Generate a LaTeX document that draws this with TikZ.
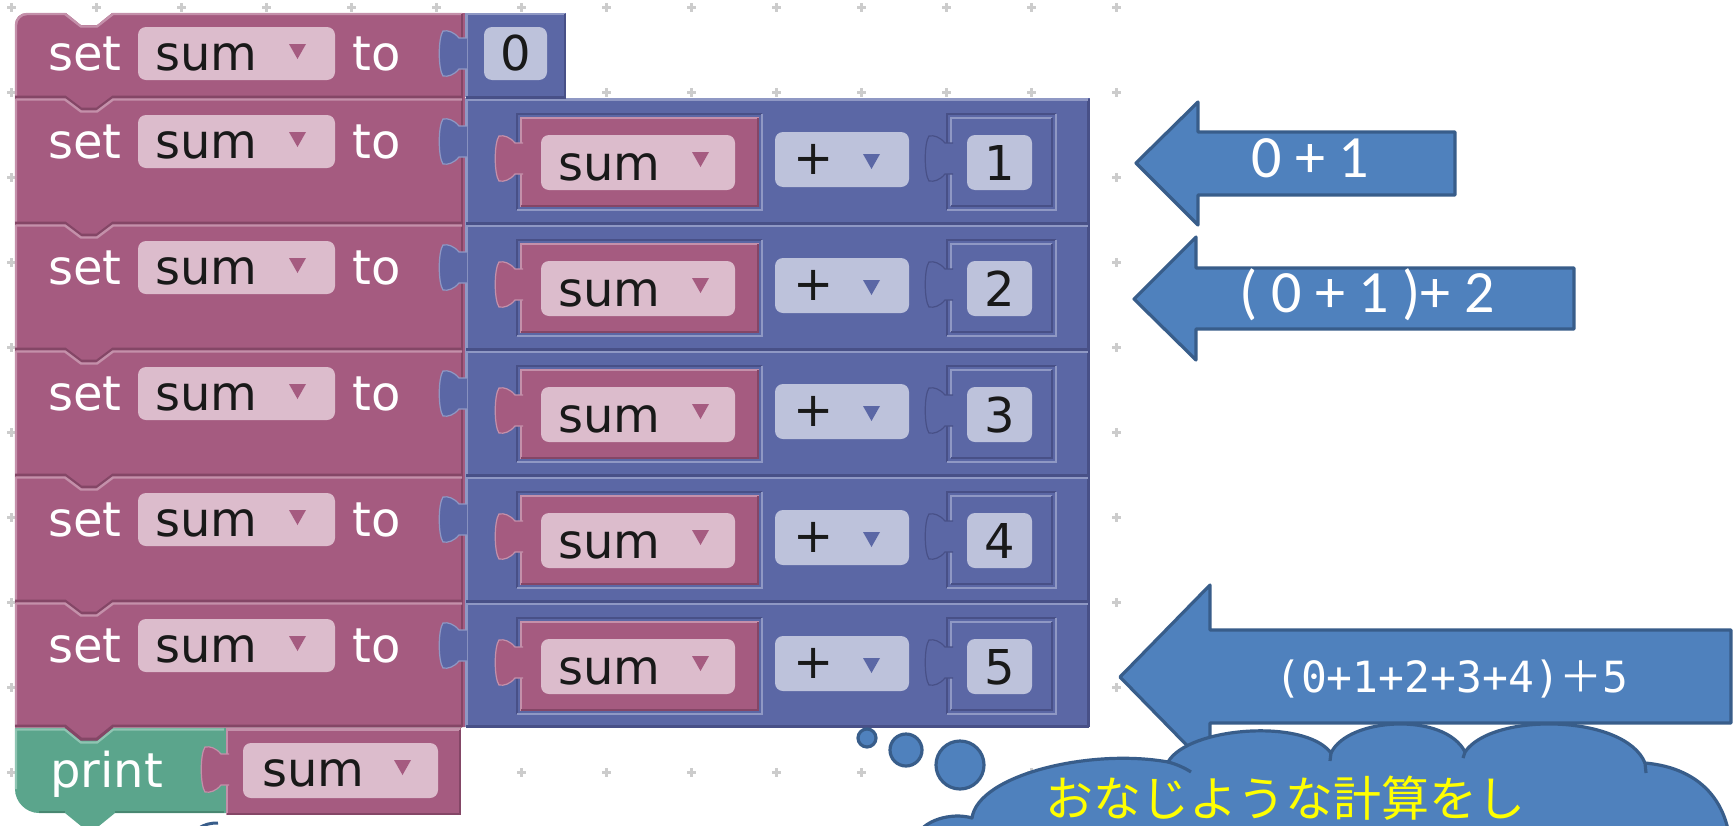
\documentclass[tikz,border=0pt]{standalone}
\usepackage{fontspec}
\setmainfont{DejaVu Sans}
\newfontfamily\blkfont{DejaVu Sans}
\newfontfamily\jpfont{Noto Sans CJK JP}
\newfontfamily\arwfont{Carlito}
\newfontfamily\arwmono{DejaVu Sans Mono}
\definecolor{pinkB}{RGB}{165,91,128}
\definecolor{pinkL}{RGB}{196,144,170}
\definecolor{pinkD}{RGB}{132,70,102}
\definecolor{pinkF}{RGB}{220,188,204}
\definecolor{blueB}{RGB}{91,103,165}
\definecolor{blueL}{RGB}{143,152,196}
\definecolor{blueD}{RGB}{72,80,135}
\definecolor{blueF}{RGB}{189,194,219}
\definecolor{greenB}{RGB}{91,165,140}
\definecolor{greenL}{RGB}{143,196,178}
\definecolor{greenD}{RGB}{72,135,113}
\definecolor{arwF}{RGB}{79,129,189}
\definecolor{arwD}{RGB}{56,93,138}
\definecolor{dotC}{RGB}{204,204,204}
\definecolor{jpY}{RGB}{255,255,0}
\newcommand{\blktab}[4]{%
  \filldraw[fill=#3, draw=#4, line width=0.6pt] (#1,#2+8) -- (#1-8,#2+8) .. controls (#1-13,#2+2) and (#1-19,#2) .. (#1-24,#2+1) .. controls (#1-29,#2+8) and (#1-29,#2+39) .. (#1-24,#2+46) .. controls (#1-19,#2+47) and (#1-13,#2+45) .. (#1-8,#2+39) -- (#1,#2+39);}
\newcommand{\ddarrow}[3]{\fill[#3] (#1,#2) -- (#1+17,#2) -- (#1+8.5,#2+15) -- cycle;}
\begin{document}
\begin{tikzpicture}[x=0.5pt,y=-0.5pt,
  wt/.style={inner sep=0, anchor=base west, text=white, font=\blkfont\fontsize{24}{28}\selectfont},
  bt/.style={wt, text=black!90},
  fldP/.style={fill=pinkF, rounded corners=4pt},
  fldB/.style={fill=blueF, rounded corners=4pt},
  bev/.style={line width=1.2pt},
  dotmark/.style={draw=dotC, line width=1.4pt},
  arw/.style={fill=arwF, draw=arwD, line width=1.6pt, line join=round},
  arwtxt/.style={inner sep=0, anchor=base, text=white, font=\arwfont\fontsize{30}{32}\selectfont},
  jptxt/.style={inner sep=0, anchor=base west, text=jpY, font=\jpfont\fontsize{24}{26}\selectfont}]
\useasboundingbox (0,0) rectangle (1735,825);
\clip (0,0) rectangle (1735,825);
\fill[white] (0,0) rectangle (1735,825);
% grid of workspace marks
\foreach \i in {0,...,13} \foreach \j in {0,...,9} {
  \draw[dotmark] (11.5+85*\i-4.5,7.5+85*\j) -- ++(9,0) (11.5+85*\i,7.5+85*\j-4.5) -- ++(0,9);
}
% ---------- pink stack of set blocks ----------
\fill[pinkB] (15,727) -- (15,25) .. controls (15,18) and (20,13) .. (27,13) -- (465,13) -- (465,727) -- cycle;
\fill[white] (65,12) -- (81,25) -- (97,25) -- (113,12) -- cycle;
\draw[pinkL, bev] (16,727) -- (16,25) .. controls (16,19) and (21,14) .. (27,14) -- (65,14) -- (81,26.5) -- (97,26.5) -- (113,14) -- (462,14);
% blue parts
\fill[blueB] (465,13) rectangle (566,97);
\fill[blueB] (465,98) rectangle (1090,727);
\draw[blueL, bev] (466.5,97) -- (466.5,14) -- (565,14);
\draw[blueD, bev] (565,14) -- (565,97);
\draw[blueL, bev] (466.5,727) -- (466.5,98);
\draw[blueD, bev] (1088.5,99) -- (1088.5,727);
\draw[pinkD, bev] (462,14) -- (462,727);
% row separators
\foreach \Y in {98,224,350,476,602} {
  \draw[pinkD, line width=1.5pt] (15,\Y-1) -- (65,\Y-1) -- (81,\Y+11) -- (97,\Y+11) -- (113,\Y-1) -- (462,\Y-1);
  \draw[pinkL, bev] (16,\Y+1.5) -- (65,\Y+1.5) -- (81,\Y+13.5) -- (97,\Y+13.5) -- (113,\Y+1.5) -- (462,\Y+1.5);
  \draw[blueL, bev] (466,\Y+1.5) -- (1088,\Y+1.5);
}
\draw[blueD, line width=1.5pt] (466,97) -- (566,97);
\foreach \Y in {224,350,476,602,727} {
  \draw[blueD, line width=1.5pt] (466,\Y-1) -- (1089,\Y-1);
}
% ---------- row 1 ----------
\fill[fldP] (138,27) rectangle (335,80);
\node[wt] (set0) at (48,70) {set};
\node[bt] (var0) at (155,70) {sum};
\ddarrow{289}{44}{pinkB}
\node[wt] (to0) at (352,70) {to};
\blktab{467}{30}{blueB}{blueL}
\fill[fldB] (484,27) rectangle (547,80);
\node[bt, anchor=base] (num0) at (515.5,70) {0};
% ---------- rows 2-6 ----------
\foreach \T/\k in {98/1,224/2,350/3,476/4,602/5} {
  \fill[fldP] (138,\T+17) rectangle (335,\T+70);
  \node[wt] (set\k) at (48,\T+60) {set};
  \node[bt] (var\k) at (155,\T+60) {sum};
  \ddarrow{289}{\T+34}{pinkB}
  \node[wt] (to\k) at (352,\T+60) {to};
  \blktab{467}{\T+20}{blueB}{blueL}
  % slot with inner variable block
  \draw[blueD, bev] (517,\T+112) -- (517,\T+16) -- (762,\T+16);
  \draw[blueL, bev] (517,\T+112) -- (762,\T+112) -- (762,\T+16);
  \fill[pinkB] (520,\T+19) rectangle (759,\T+109);
  \draw[pinkL, bev] (521,\T+109) -- (521,\T+20) -- (759,\T+20);
  \draw[pinkD, bev] (521,\T+108) -- (758,\T+108) -- (758,\T+20);
  \blktab{523}{\T+37}{pinkB}{pinkL}
  \fill[fldP] (541,\T+37) rectangle (735,\T+92);
  \node[bt] (inv\k) at (558,\T+82) {sum};
  \ddarrow{692}{\T+54}{pinkB}
  % operator
  \fill[fldB] (775,\T+34) rectangle (909,\T+89);
  \node[bt, anchor=center] (op\k) at (814,\T+61) {+};
  \ddarrow{863}{\T+56}{blueB}
  % number block
  \draw[blueD, bev] (947,\T+112) -- (947,\T+16) -- (1056,\T+16);
  \draw[blueL, bev] (947,\T+112) -- (1056,\T+112) -- (1056,\T+16);
  \draw[blueL, bev] (951,\T+108) -- (951,\T+20) -- (1052,\T+20);
  \draw[blueD, bev] (951,\T+108) -- (1052,\T+108) -- (1052,\T+20);
  \blktab{953}{\T+37}{blueB}{blueD}
  \fill[fldB] (967,\T+37) rectangle (1032,\T+92);
  \node[bt, anchor=base] (num\k) at (999.5,\T+82) {\k};
}
% ---------- print block ----------
\fill[greenB] (15,728) -- (226,728) -- (226,813) -- (115,813) -- (99,826) -- (81,826) -- (65,813) -- (39,813) .. controls (26,813) and (15,802) .. (15,789) -- cycle;
\draw[greenL, bev] (16,789) -- (16,729.5) -- (65,729.5) -- (81,742.5) -- (97,742.5) -- (113,729.5) -- (224,729.5);
\draw[greenD, bev] (39,812) -- (65,812) (115,812) -- (224,812);
\fill[pinkB] (65,726) -- (81,740) -- (97,740) -- (113,726) -- cycle;
\draw[pinkD, line width=1.5pt] (15,726) -- (65,726) -- (81,739) -- (97,739) -- (113,726) -- (462,726);
\node[wt] (pr) at (50,787) {print};
\fill[pinkB] (226,728) rectangle (461,815);
\draw[pinkL, bev] (227,815) -- (227,729.5) -- (460,729.5);
\draw[pinkD, bev] (227,814) -- (460,814) -- (460,729.5);
\blktab{229}{746}{pinkB}{pinkL}
\fill[fldP] (243,743) rectangle (438,798);
\node[bt] (pvar) at (262,786) {sum};
\ddarrow{394}{760}{pinkB}
% tiny shape edge at bottom
\draw[arwD, line width=1.5pt] (198,829) .. controls (204,824) and (211,823) .. (218,823);
% ---------- arrows ----------
\filldraw[arw] (1136,163) -- (1198,102) -- (1198,132) -- (1455,132) -- (1455,195) -- (1198,195) -- (1198,225) -- cycle;
\node[arwtxt] (a1) at (1310,177) {0 + 1};
\filldraw[arw] (1134,299) -- (1196,237) -- (1196,268) -- (1574,268) -- (1574,329) -- (1196,329) -- (1196,360) -- cycle;
\node[arwtxt] (a2) at (1367,312) {( 0 + 1 )+ 2};
\filldraw[arw] (1120,677) -- (1210,585) -- (1210,630) -- (1731,630) -- (1731,723) -- (1210,723) -- (1210,769) -- cycle;
\node[arwtxt, font=\arwmono\fontsize{21.5}{24}\selectfont] (a3) at (1452,692) {(0+1+2+3+4){\jpfont ＋}5};
% ---------- thought cloud ----------
\filldraw[arw] (867,738) circle[radius=9];
\filldraw[arw] (906,750) circle[radius=16];
\filldraw[arw] (960,765) circle[radius=24];
\filldraw[arw] (915,870) -- (916,838) .. controls (922,820) and (952,812) .. (972,818) .. controls (978,775) and (1090,748) .. (1168,762) .. controls (1188,727) and (1305,718) .. (1331,753) .. controls (1348,717) and (1445,712) .. (1465,752) .. controls (1492,712) and (1625,714) .. (1645,763) .. controls (1702,768) and (1736,805) .. (1730,870) -- cycle;
\draw[arwD, line width=1.6pt] (1168,762) .. controls (1176,764) and (1185,768) .. (1191,772);
\draw[arwD, line width=1.6pt] (1331,753) -- (1330,761);
\draw[arwD, line width=1.6pt] (1465,752) -- (1463,758);
\draw[arwD, line width=1.6pt] (1645,763) -- (1646,773);
\node[jptxt] (jt) at (1045,816) {おなじような計算をし};
\end{tikzpicture}
\end{document}
